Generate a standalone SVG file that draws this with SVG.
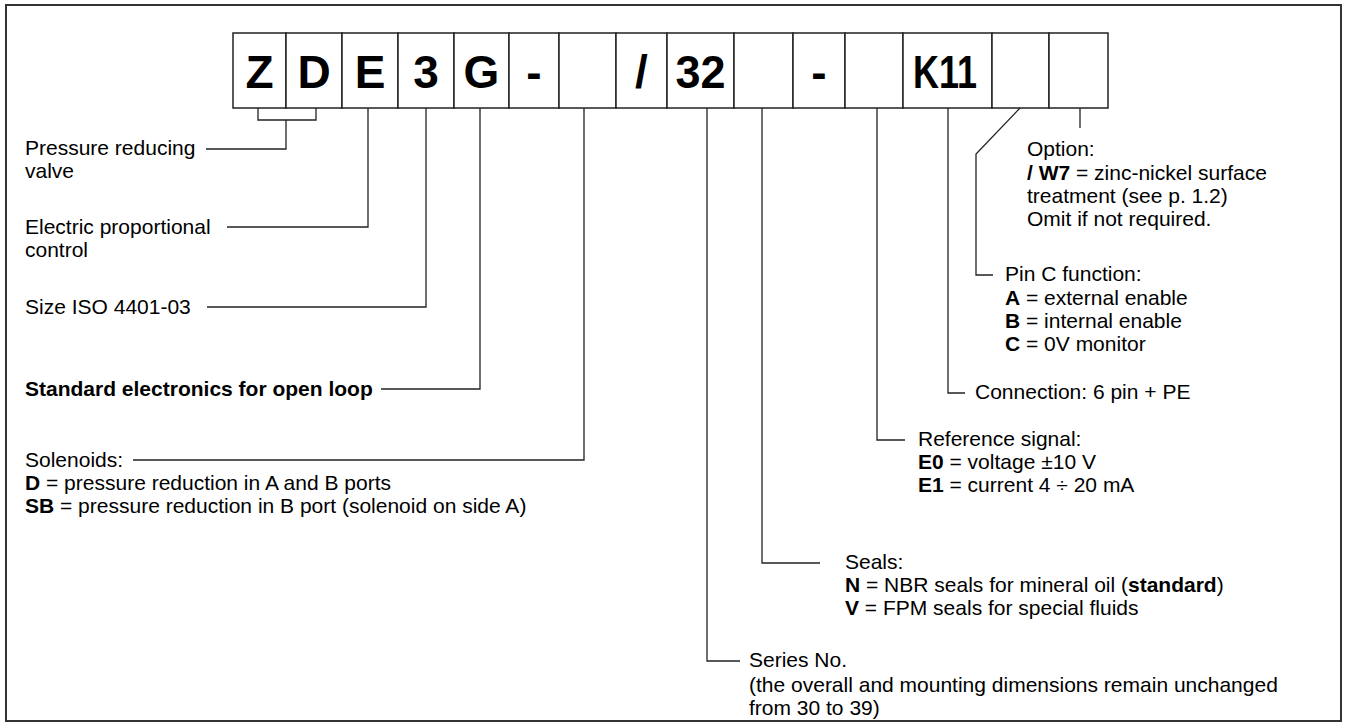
<svg xmlns="http://www.w3.org/2000/svg" width="1346" height="727" viewBox="0 0 1346 727">
<style>
.frame{fill:#fff;stroke:#333;stroke-width:2}
.box{fill:#fff;stroke:#222;stroke-width:1.5}
.bt{font-family:"Liberation Sans",Arial,sans-serif;font-weight:bold;font-size:46px;fill:#000;text-anchor:middle}
.t{font-family:"Liberation Sans",Arial,sans-serif;font-size:21px;fill:#000}
.b{font-weight:bold}
.c{fill:none;stroke:#222;stroke-width:1.3}
</style>
<rect class="frame" x="6" y="5" width="1335" height="716"/>
<g id="code">
<g id="box-Z"><rect class="box" x="233" y="33" width="53" height="75"/><text class="bt" x="259.5" y="88">Z</text></g>
<g id="box-D"><rect class="box" x="286" y="33" width="56" height="75"/><text class="bt" x="314" y="88">D</text></g>
<g id="box-E"><rect class="box" x="342" y="33" width="56" height="75"/><text class="bt" x="370" y="88">E</text></g>
<g id="box-3"><rect class="box" x="398" y="33" width="56" height="75"/><text class="bt" x="426" y="88">3</text></g>
<g id="box-G"><rect class="box" x="454" y="33" width="55" height="75"/><text class="bt" x="481.5" y="88">G</text></g>
<g id="box-dash1"><rect class="box" x="509" y="33" width="50" height="75"/><text class="bt" x="534" y="88">-</text></g>
<g id="box-sol"><rect class="box" x="559" y="33" width="57" height="75"/></g>
<g id="box-slash"><rect class="box" x="616" y="33" width="51" height="75"/><text class="bt" x="641.5" y="88">/</text></g>
<g id="box-32"><rect class="box" x="667" y="33" width="67" height="75"/><text class="bt" x="700.5" y="88" textLength="50" lengthAdjust="spacingAndGlyphs">32</text></g>
<g id="box-seal"><rect class="box" x="734" y="33" width="59" height="75"/></g>
<g id="box-dash2"><rect class="box" x="793" y="33" width="52" height="75"/><text class="bt" x="819" y="88">-</text></g>
<g id="box-ref"><rect class="box" x="845" y="33" width="58" height="75"/></g>
<g id="box-K11"><rect class="box" x="903" y="33" width="89" height="75"/><text class="bt" x="945" y="88" textLength="64" lengthAdjust="spacingAndGlyphs">K11</text></g>
<g id="box-pinc"><rect class="box" x="992" y="33" width="57" height="75"/></g>
<g id="box-opt"><rect class="box" x="1049" y="33" width="59" height="75"/></g>
</g>
<g id="connectors">
<path class="c" d="M258,108 V120 H316 V108 M286,120 V149 H206"/>
<path class="c" d="M368,108 V227 H227"/>
<path class="c" d="M426,108 V307 H207"/>
<path class="c" d="M480,108 V389 H381"/>
<path class="c" d="M584,108 V460 H133"/>
<path class="c" d="M707,108 V661 H740"/>
<path class="c" d="M762,108 V563 H820"/>
<path class="c" d="M877,108 V440 H905"/>
<path class="c" d="M948,108 V393 H965"/>
<path class="c" d="M1020,108 L976,154 V275 H993"/>
<path class="c" d="M1080,108 V128"/>
</g>
<g id="lbl-valve"><text class="t" x="25" y="155">Pressure reducing</text><text class="t" x="25" y="178">valve</text></g>
<g id="lbl-control"><text class="t" x="25" y="234">Electric proportional</text><text class="t" x="25" y="257">control</text></g>
<g id="lbl-size"><text class="t" x="25" y="314">Size ISO 4401-03</text></g>
<g id="lbl-electronics"><text class="t b" x="25" y="396">Standard electronics for open loop</text></g>
<g id="lbl-solenoids"><text class="t" x="25" y="467">Solenoids:</text>
<text class="t" x="25" y="490"><tspan class="b">D</tspan> = pressure reduction in A and B ports</text>
<text class="t" x="25" y="513"><tspan class="b">SB</tspan> = pressure reduction in B port (solenoid on side A)</text></g>
<g id="lbl-option"><text class="t" x="1027" y="156">Option:</text>
<text class="t" x="1027" y="180"><tspan class="b">/ W7</tspan> = zinc-nickel surface</text>
<text class="t" x="1027" y="203">treatment (see p. 1.2)</text>
<text class="t" x="1027" y="226">Omit if not required.</text></g>
<g id="lbl-pinc"><text class="t" x="1005" y="281">Pin C function:</text>
<text class="t" x="1005" y="305"><tspan class="b">A</tspan> = external enable</text>
<text class="t" x="1005" y="328"><tspan class="b">B</tspan> = internal enable</text>
<text class="t" x="1005" y="351"><tspan class="b">C</tspan> = 0V monitor</text></g>
<g id="lbl-connection"><text class="t" x="975" y="399">Connection: 6 pin + PE</text></g>
<g id="lbl-reference"><text class="t" x="918" y="446">Reference signal:</text>
<text class="t" x="918" y="469"><tspan class="b">E0</tspan> = voltage ±10 V</text>
<text class="t" x="918" y="492"><tspan class="b">E1</tspan> = current 4 ÷ 20 mA</text></g>
<g id="lbl-seals"><text class="t" x="845" y="569">Seals:</text>
<text class="t" x="845" y="592"><tspan class="b">N</tspan> = NBR seals for mineral oil (<tspan class="b">standard</tspan>)</text>
<text class="t" x="845" y="615"><tspan class="b">V</tspan> = FPM seals for special fluids</text></g>
<g id="lbl-series"><text class="t" x="749" y="667">Series No.</text>
<text class="t" x="749" y="692">(the overall and mounting dimensions remain unchanged</text>
<text class="t" x="749" y="715">from 30 to 39)</text></g>
</svg>
